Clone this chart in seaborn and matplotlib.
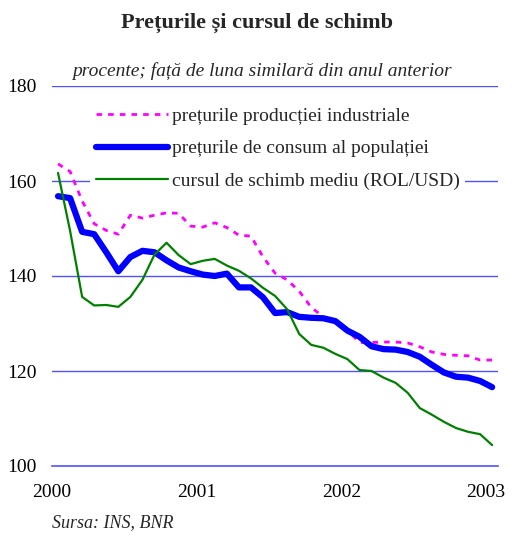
import numpy as np
import pandas as pd
import matplotlib
matplotlib.use("Agg")
import matplotlib.pyplot as plt
import seaborn as sns

# monthly values, Jan 2000 .. Jan 2003 (37 months)
months = np.arange(37)
years = [2000, 2001, 2002, 2003]
yticks = [100, 120, 140, 160, 180]

prod_ind = [163.6, 162.0, 155.8, 151.0, 149.6, 148.8, 152.8, 152.2, 152.8, 153.3,
            153.2, 150.5, 150.3, 151.2, 150.2, 148.6, 148.4, 144.0, 140.6, 139.2,
            136.8, 133.4, 131.4, 130.5, 128.6, 126.0, 126.0, 126.1, 126.1, 125.9,
            125.1, 124.0, 123.5, 123.3, 123.2, 122.3, 122.3]
consum = [156.8, 156.4, 149.3, 148.8, 145.0, 141.0, 144.0, 145.3, 145.0, 143.3,
          141.8, 141.0, 140.3, 140.0, 140.5, 137.6, 137.6, 135.5, 132.2, 132.4,
          131.4, 131.2, 131.1, 130.5, 128.5, 127.2, 125.2, 124.6, 124.5, 124.0,
          123.0, 121.3, 119.7, 118.8, 118.6, 117.9, 116.6]
curs = [161.7, 149.5, 135.6, 133.8, 133.9, 133.5, 135.6, 139.2, 144.5, 147.0,
        144.4, 142.5, 143.2, 143.6, 142.2, 141.1, 139.5, 137.5, 135.8, 133.0,
        127.8, 125.5, 124.9, 123.6, 122.5, 120.2, 120.0, 118.6, 117.5, 115.4,
        112.2, 110.8, 109.3, 108.0, 107.2, 106.7, 104.4]

labels = ["prețurile producției industriale",
          "prețurile de consum al populației",
          "cursul de schimb mediu (ROL/USD)"]

t = 2000 + (months + 0.5) / 12
df = pd.DataFrame({"t": np.tile(t, 3),
                   "val": prod_ind + consum + curs,
                   "serie": np.repeat(labels, len(t))})

sns.set_theme(style="white")
plt.rcParams['font.family'] = ['Liberation Serif', 'DejaVu Serif']

fig = plt.figure(figsize=(5.14, 5.40), dpi=100)
ax = fig.add_axes([52/514, 1 - 466/540, 446/514, 380/540])

grid_c = "#5050ff"
for v in yticks[1:]:
    ax.axhline(v, color=grid_c, lw=1.0, zorder=0)

styles = {labels[0]: dict(color="#ff00ff", lw=2.0, ls=(0, (2, 2.2))),
          labels[1]: dict(color="#0000ff", lw=4.5, ls="-"),
          labels[2]: dict(color="#008000", lw=1.6, ls="-")}
for lab in labels:
    sub = df[df["serie"] == lab]
    st = styles[lab]
    sns.lineplot(data=sub, x="t", y="val", ax=ax, color=st["color"],
                 linewidth=st["lw"], linestyle=st["ls"], label=lab,
                 solid_capstyle="round", solid_joinstyle="round",
                 dash_capstyle="butt", zorder=3)

ax.set_xlim(2000, 2000 + 446/144.7)
ax.set_ylim(100, 180)
ax.set_xticks(years)
ax.set_xticklabels([str(y) for y in years], fontsize=14)
ax.set_yticks(yticks)
ax.set_yticklabels([str(v) for v in yticks], fontsize=14)
ax.set_xlabel("")
ax.set_ylabel("")
for s in ["top", "right", "left"]:
    ax.spines[s].set_visible(False)
ax.spines["bottom"].set_color(grid_c)
ax.spines["bottom"].set_linewidth(1.2)
ax.tick_params(axis="x", direction="out", length=5, width=1, color="#0000cc",
               pad=8, labelcolor="black")
ax.tick_params(axis="y", length=0, pad=11, labelcolor="black")

leg = ax.legend(loc="upper left", bbox_to_anchor=(0.085, 0.96), fontsize=14,
                frameon=True, facecolor="white", edgecolor="none", framealpha=1,
                handlelength=3.7, handletextpad=0.2, labelspacing=0.78,
                borderpad=0.3, borderaxespad=0)
leg.set_zorder(5)

fig.text(0.5, 1 - 28/540, "Prețurile și cursul de schimb", ha="center",
         va="baseline", fontsize=16, fontweight="bold")
fig.text(262/514, 1 - 76/540, "procente; față de luna similară din anul anterior",
         ha="center", va="baseline", fontsize=14, style="italic")
fig.text(52/514, 1 - 527/540, "Sursa: INS, BNR", ha="left", va="baseline",
         fontsize=13, style="italic")

fig.savefig("out.png", dpi=100, facecolor="white")
